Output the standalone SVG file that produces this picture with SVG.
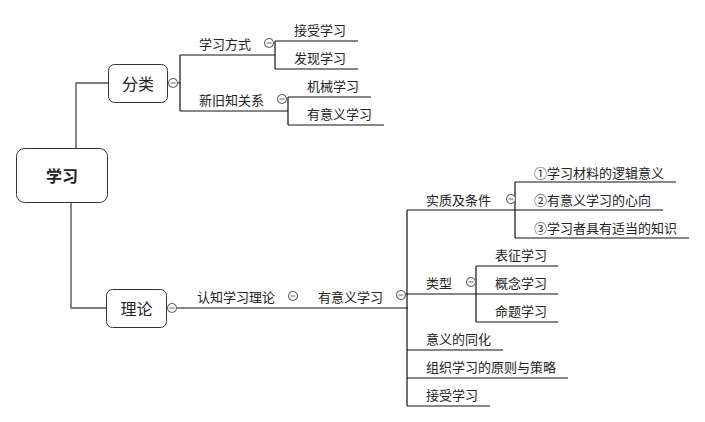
<svg xmlns="http://www.w3.org/2000/svg" width="705" height="422" viewBox="0 0 705 422">
<style>
text{font-family:"Noto Sans CJK SC","Microsoft YaHei",sans-serif;fill:#222;dominant-baseline:central}
.t{font-size:13px}
.l1{font-size:16px;text-anchor:middle}
.root{font-size:16px;font-weight:bold;text-anchor:middle}
.box{fill:#fff;stroke:#333;stroke-width:1}
.ln{fill:none;stroke:#111;stroke-width:1.2}
.rl{fill:none;stroke:#555;stroke-width:1.4}
.cb circle{fill:#fff;stroke:#666;stroke-width:1.1}
.cb line{stroke:#666;stroke-width:1}
</style>
<defs>
<g id="col" class="cb"><circle r="4.5"/><line x1="-2.5" y1="0" x2="2.5" y2="0"/></g>
</defs>
<g id="connectors">
<path class="rl" d="M76,148 V83 H108"/>
<path class="rl" d="M71,202 V308 H106"/>
<path class="ln" d="M178,83 H180 M180,55 V111 M180,55 H275 M275,41 V69 M275,41 H358 M275,69 H358 M180,111 H288 M288,97 V125 M288,97 H371 M288,125 H384"/>
<path class="ln" d="M176,308 H408 M407,210 V406 M407,210 H515 M515,182 V238 M515,182 H676 M515,210 H663 M515,238 H689 M405,294 H476 M476,266 V322 M476,266 H558 M476,294 H558 M476,322 H558 M407,350 H503 M407,378 H568 M407,406 H490"/>
</g>
<g id="root"><rect class="box" x="16.5" y="148.5" width="91" height="54" rx="8"/><text class="root" x="62" y="175">学习</text></g>
<g id="fenlei"><rect class="box" x="108.5" y="64.5" width="59" height="38" rx="6"/><text class="l1" x="138" y="83">分类</text><use href="#col" x="173" y="83"/></g>
<g id="lilun"><rect class="box" x="106.5" y="289.5" width="60" height="38" rx="6"/><text class="l1" x="136.5" y="308">理论</text><use href="#col" x="172" y="308"/></g>
<g id="xxfs"><text class="t" x="199" y="43">学习方式</text><use href="#col" x="269" y="43"/></g>
<g id="jsxx1"><text class="t" x="294" y="29">接受学习</text></g>
<g id="fxxx"><text class="t" x="294" y="57">发现学习</text></g>
<g id="xjzg"><text class="t" x="199" y="99">新旧知关系</text><use href="#col" x="282" y="99"/></g>
<g id="jxxx"><text class="t" x="307" y="85">机械学习</text></g>
<g id="yyyxx1"><text class="t" x="307" y="113">有意义学习</text></g>
<g id="rzxxll"><text class="t" x="197" y="296">认知学习理论</text><use href="#col" x="293" y="296"/></g>
<g id="yyyxx2"><text class="t" x="318" y="296">有意义学习</text><use href="#col" x="401" y="295"/></g>
<g id="szjtj"><text class="t" x="426" y="199">实质及条件</text><use href="#col" x="511" y="199"/></g>
<g id="c1"><text class="t" x="534" y="172">①学习材料的逻辑意义</text></g>
<g id="c2"><text class="t" x="534" y="199">②有意义学习的心向</text></g>
<g id="c3"><text class="t" x="534" y="227">③学习者具有适当的知识</text></g>
<g id="lx"><text class="t" x="426" y="282">类型</text><use href="#col" x="471" y="282"/></g>
<g id="bzxx"><text class="t" x="495" y="254">表征学习</text></g>
<g id="gnxx"><text class="t" x="495" y="282">概念学习</text></g>
<g id="mtxx"><text class="t" x="495" y="310">命题学习</text></g>
<g id="yydth"><text class="t" x="426" y="338">意义的同化</text></g>
<g id="zzxx"><text class="t" x="426" y="366">组织学习的原则与策略</text></g>
<g id="jsxx2"><text class="t" x="426" y="394">接受学习</text></g>
</svg>
